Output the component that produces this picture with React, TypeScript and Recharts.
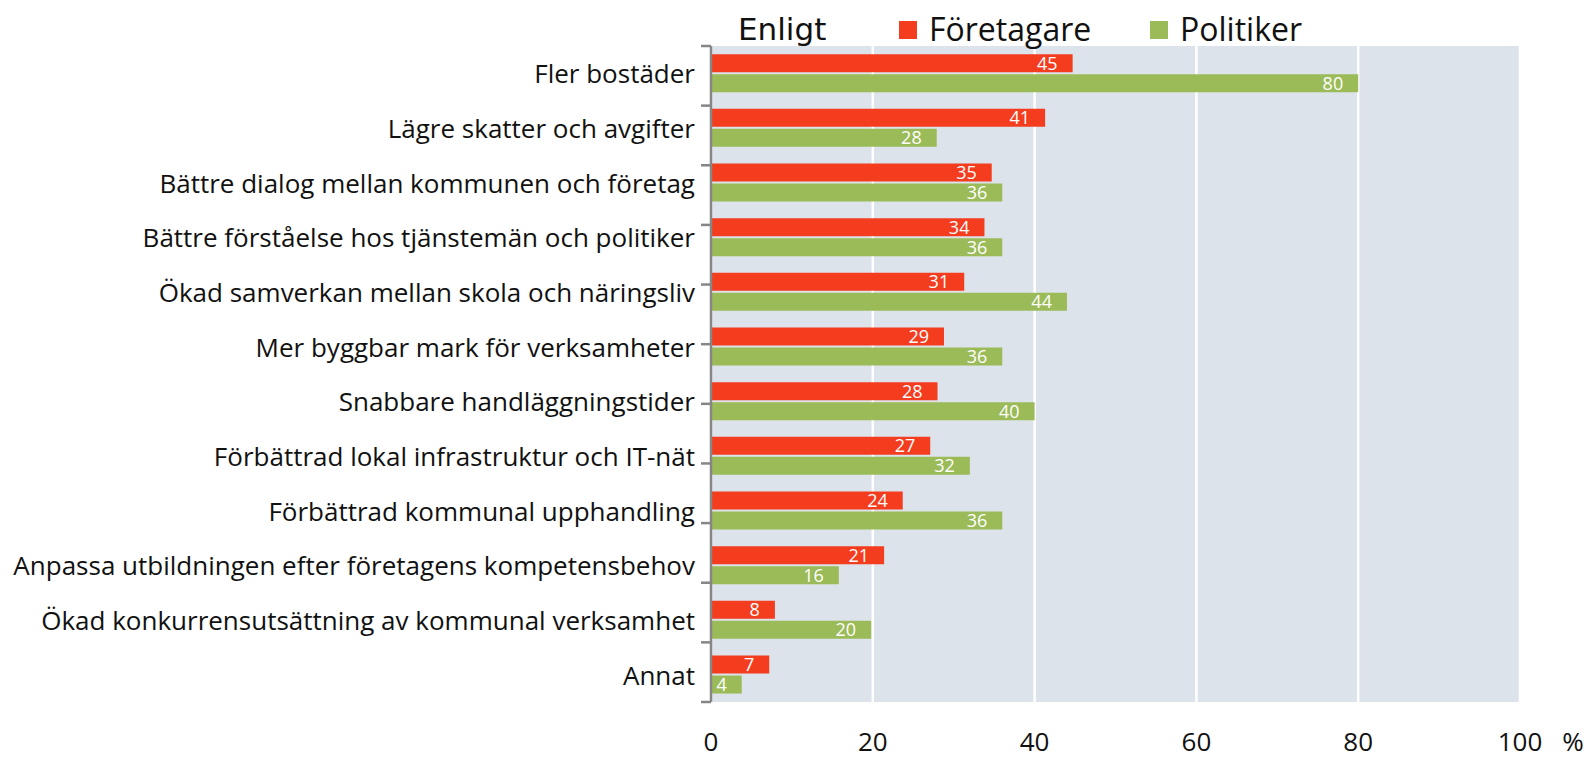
import React from "react";
import {
  BarChart,
  Bar,
  XAxis,
  YAxis,
  CartesianGrid,
  LabelList,
} from "recharts";

const categories = [
  "Fler bostäder",
  "Lägre skatter och avgifter",
  "Bättre dialog mellan kommunen och företag",
  "Bättre förståelse hos tjänstemän och politiker",
  "Ökad samverkan mellan skola och näringsliv",
  "Mer byggbar mark för verksamheter",
  "Snabbare handläggningstider",
  "Förbättrad lokal infrastruktur och IT-nät",
  "Förbättrad kommunal upphandling",
  "Anpassa utbildningen efter företagens kompetensbehov",
  "Ökad konkurrensutsättning av kommunal verksamhet",
  "Annat",
];

const foretagare = [44.7, 41.3, 34.7, 33.8, 31.3, 28.8, 28.0, 27.1, 23.7, 21.4, 7.9, 7.2];
const politiker = [80, 27.9, 36, 36, 44, 36, 40, 32, 36, 15.8, 19.8, 3.8];

const xTicks = [0, 20, 40, 60, 80, 100];
const boundaryTicks = [0, 1, 2, 3, 4, 5, 6, 7, 8, 9, 10, 11, 12];

const legendTitle = "Enligt";
const seriesNames = ["Företagare", "Politiker"];

const RED = "#F43C1F";
const GREEN = "#9BBB59";
const BG = "#DCE3EA";
const TEXT = "#111111";
const FONT = "'Open Sans', sans-serif";

const data = categories.map((name, i) => ({
  name,
  foretagare: foretagare[i],
  politiker: politiker[i],
}));

const XTick = (props: any) => {
  const { x, y, payload } = props;
  return (
    <g>
      <text
        x={x}
        y={y + 39}
        textAnchor="middle"
        dominantBaseline="central"
        fontFamily={FONT}
        fontSize={26}
        fill={TEXT}
      >
        {payload.value}
      </text>
      {payload.value === 100 ? (
        <text
          x={x + 53}
          y={y + 39}
          textAnchor="middle"
          dominantBaseline="central"
          fontFamily={FONT}
          fontSize={26}
          fill={TEXT}
        >
          %
        </text>
      ) : null}
    </g>
  );
};

const YTick = (props: any) => {
  const { x, y, payload } = props;
  return (
    <text
      x={x}
      y={y}
      textAnchor="end"
      dominantBaseline="central"
      fontFamily={FONT}
      fontSize={26}
      fill={TEXT}
    >
      {payload.value}
    </text>
  );
};

const LegendBox = () => (
  <div
    style={{
      position: "absolute",
      left: 0,
      top: 0,
      width: 1591,
      height: 46,
      pointerEvents: "none",
    }}
  >
    <span
      style={{
        position: "absolute",
        left: 738,
        top: 11,
        fontFamily: "'DejaVu Sans', sans-serif",
        fontSize: 31,
        color: TEXT,
        lineHeight: "36px",
      }}
    >
      {legendTitle}
    </span>
    <span
      style={{
        position: "absolute",
        left: 899,
        top: 21,
        width: 18,
        height: 18,
        background: RED,
      }}
    />
    <span
      style={{
        position: "absolute",
        left: 929,
        top: 9,
        fontFamily: FONT,
        fontSize: 32,
        color: TEXT,
        lineHeight: "40px",
      }}
    >
      {seriesNames[0]}
    </span>
    <span
      style={{
        position: "absolute",
        left: 1150,
        top: 21,
        width: 18,
        height: 18,
        background: GREEN,
      }}
    />
    <span
      style={{
        position: "absolute",
        left: 1180,
        top: 9,
        fontFamily: FONT,
        fontSize: 32,
        color: TEXT,
        lineHeight: "40px",
      }}
    >
      {seriesNames[1]}
    </span>
  </div>
);

export default function App() {
  return (
    <div style={{ position: "relative", width: 1591, height: 758, overflow: "hidden" }}>
      <style>{"body{margin:0;overflow:hidden;}"}</style>
      <BarChart
        width={1591}
        height={758}
        data={data}
        layout="vertical"
        margin={{ top: 46, right: 71, left: 0, bottom: 0 }}
        barCategoryGap="15%"
        barGap={2}
      >
        <CartesianGrid
          xAxisId="x"
          yAxisId="cat"
          horizontal={false}
          vertical={true}
          stroke="#FFFFFF"
          strokeWidth={2.5}
          fill={BG}
        />
        <XAxis
          xAxisId="x"
          type="number"
          domain={[0, 100]}
          ticks={xTicks}
          axisLine={false}
          tickLine={false}
          tickSize={0}
          tickMargin={0}
          height={56}
          tick={<XTick />}
          interval={0}
        />
        <YAxis
          yAxisId="aaa"
          type="number"
          domain={[0, 12]}
          ticks={boundaryTicks}
          reversed
          width={1}
          tickSize={10}
          tickLine={{ stroke: "#868686", strokeWidth: 2.5 }}
          axisLine={{ stroke: "#868686", strokeWidth: 2.5 }}
          tick={() => <g />}
          interval={0}
          allowDataOverflow
        />
        <YAxis
          yAxisId="cat"
          type="category"
          dataKey="name"
          width={710}
          axisLine={false}
          tickLine={false}
          tickSize={0}
          tickMargin={15}
          tick={<YTick />}
          interval={0}
        />
        <Bar
          xAxisId="x"
          yAxisId="cat"
          dataKey="foretagare"
          name={seriesNames[0]}
          fill={RED}
          isAnimationActive={false}
        >
          <LabelList
            dataKey="foretagare"
            position="insideRight"
            offset={15}
            fill="#FFFFFF"
            fontFamily={FONT}
            fontSize={18}
            formatter={(v: any) => Math.round(Number(v))}
          />
        </Bar>
        <Bar
          xAxisId="x"
          yAxisId="cat"
          dataKey="politiker"
          name={seriesNames[1]}
          fill={GREEN}
          isAnimationActive={false}
        >
          <LabelList
            dataKey="politiker"
            position="insideRight"
            offset={15}
            fill="#FFFFFF"
            fontFamily={FONT}
            fontSize={18}
            formatter={(v: any) => Math.round(Number(v))}
          />
        </Bar>
      </BarChart>
      <LegendBox />
    </div>
  );
}
